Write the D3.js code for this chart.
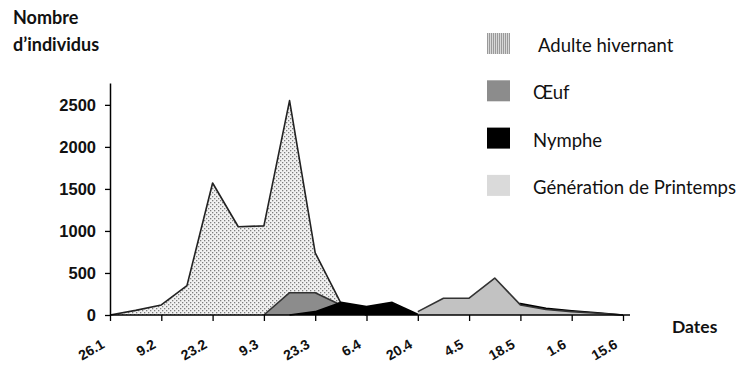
<!DOCTYPE html>
<html>
<head>
<meta charset="utf-8">
<script src="https://cdn.jsdelivr.net/npm/d3@7"></script>
<style>
  body { margin: 0; background: #fff; }
  svg { display: block; }
</style>
</head>
<body>
<script>
// weekly samples, ticks every two weeks
var dateLabels = ['26.1', '9.2', '23.2', '9.3', '23.3', '6.4', '20.4', '4.5', '18.5', '1.6', '15.6'];
var weeks = d3.range(21);

var adulte = [0, 55, 120, 350, 1570, 1050, 1060, 2550, 740, 140, 0,
  null, null, null, null, null, null, null, null, null, null];
var oeuf = [null, null, null, null, null, null, 0, 265, 265, 120, 0,
  null, null, null, null, null, null, null, null, null, null];
var nymphe = [null, null, null, null, null, null, null, 0, 40, 150, 100,
  150, 10, 50, 60, 100, 135, 80, 50, 25, 0];
var printemps = [null, null, null, null, null, null, null, null, null, null, null,
  null, 40, 200, 200, 440, 120, 65, 40, 20, 0];

var yTicks = [0, 500, 1000, 1500, 2000, 2500];

var legendItems = ['Adulte hivernant', 'Œuf', 'Nymphe', 'Génération de Printemps'];

var svg = d3.select('body').append('svg').attr('width', 741).attr('height', 367);

var defs = svg.append('defs');
var dots = defs.append('pattern').attr('id', 'dots')
  .attr('width', 4).attr('height', 4).attr('patternUnits', 'userSpaceOnUse');
dots.append('rect').attr('width', 4).attr('height', 4).attr('fill', '#f2f2f2');
dots.append('rect').attr('x', 0).attr('y', 0).attr('width', 1.3).attr('height', 1.3).attr('fill', '#7e7e7e');
dots.append('rect').attr('x', 2).attr('y', 2).attr('width', 1.3).attr('height', 1.3).attr('fill', '#7e7e7e');

var fine = defs.append('pattern').attr('id', 'fine')
  .attr('width', 2).attr('height', 2).attr('patternUnits', 'userSpaceOnUse');
fine.append('rect').attr('width', 2).attr('height', 2).attr('fill', '#d8d8d8');
fine.append('rect').attr('width', 1).attr('height', 2).attr('fill', '#9a9a9a');

var x = d3.scaleLinear().domain([0, 20]).range([110, 623]);
var y = d3.scaleLinear().domain([0, 2760]).range([315, 83]);

var area = function(vals) {
  return d3.area()
    .defined(function(d, i) { return vals[i] !== null; })
    .x(function(d, i) { return x(i); })
    .y0(y(0))
    .y1(function(d, i) { return y(vals[i]); })(weeks);
};
var line = function(vals) {
  return d3.line()
    .defined(function(d, i) { return vals[i] !== null; })
    .x(function(d, i) { return x(i); })
    .y(function(d, i) { return y(vals[i]); })(weeks);
};

var series = [
  { vals: adulte, fill: 'url(#dots)', stroke: '#222' },
  { vals: oeuf, fill: '#8c8c8c', stroke: '#333' },
  { vals: nymphe, fill: '#000', stroke: '#000' },
  { vals: printemps, fill: '#c2c2c2', stroke: '#333' }
];

series.forEach(function(s) {
  svg.append('path').attr('d', area(s.vals)).attr('fill', s.fill);
  svg.append('path').attr('d', line(s.vals)).attr('fill', 'none')
    .attr('stroke', s.stroke).attr('stroke-width', 1.6).attr('stroke-linejoin', 'round');
});

// y axis
var yAxis = svg.append('g').attr('transform', 'translate(110,0)')
  .call(d3.axisLeft(y).tickValues(yTicks).tickFormat(d3.format('d'))
    .tickSize(5).tickPadding(9).tickSizeOuter(0));
yAxis.select('.domain').attr('stroke', '#000').attr('stroke-width', 1.5);
yAxis.selectAll('.tick line').attr('stroke', '#000').attr('stroke-width', 1.3);
yAxis.selectAll('text').attr('font-family', 'Liberation Sans, Arial, sans-serif')
  .attr('font-weight', 'bold').attr('font-size', 16.5).attr('fill', '#111');

// x axis
var xAxis = svg.append('g').attr('transform', 'translate(0,315)')
  .call(d3.axisBottom(x).tickValues(d3.range(0, 21, 2)).tickSize(6).tickSizeOuter(0)
    .tickFormat(function(d) { return dateLabels[d / 2]; }));
xAxis.select('.domain').attr('d', 'M110,0H630').attr('stroke', '#000').attr('stroke-width', 1.5);
xAxis.selectAll('.tick line').attr('stroke', '#000').attr('stroke-width', 1.3);
xAxis.selectAll('text')
  .attr('font-family', 'Liberation Sans, Arial, sans-serif')
  .attr('font-weight', 'bold').attr('font-size', 14).attr('fill', '#111')
  .attr('text-anchor', 'end').attr('dy', 0).attr('y', 0)
  .attr('transform', 'translate(-5,32) rotate(-30)');

// titles
var titleFont = 'Lato, Open Sans, sans-serif';
svg.append('text').attr('x', 13).attr('y', 24).text('Nombre')
  .attr('font-family', titleFont).attr('font-weight', 'bold').attr('font-size', 18).attr('fill', '#111');
svg.append('text').attr('x', 13).attr('y', 51).text('d\u2019individus')
  .attr('font-family', titleFont).attr('font-weight', 'bold').attr('font-size', 18).attr('fill', '#111');
svg.append('text').attr('x', 672).attr('y', 333).text('Dates')
  .attr('font-family', titleFont).attr('font-weight', 'bold').attr('font-size', 17.5).attr('fill', '#111');

// legend
var swatchFills = ['url(#fine)', '#8c8c8c', '#000', '#dadada'];
var legend = svg.selectAll('g.leg').data(legendItems).enter().append('g')
  .attr('class', 'leg')
  .attr('transform', function(d, i) { return 'translate(487,' + (33 + i * 47.3) + ')'; });
legend.append('rect').attr('width', 23).attr('height', 21)
  .attr('fill', function(d, i) { return swatchFills[i]; });
legend.append('text').attr('x', function(d, i) { return i === 0 ? 51 : 46; }).attr('y', 19)
  .attr('font-family', titleFont).attr('font-size', 18.5).attr('fill', '#111')
  .text(function(d) { return d; });
</script>
</body>
</html>
